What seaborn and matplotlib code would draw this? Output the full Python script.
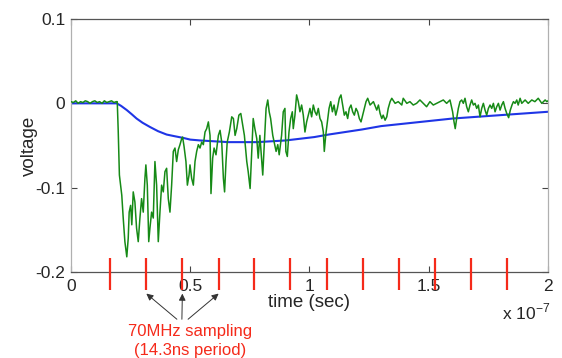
import numpy as np
import pandas as pd
import matplotlib
matplotlib.use("Agg")
import matplotlib.pyplot as plt
import seaborn as sns
from matplotlib.ticker import FuncFormatter

green_t_ns = [0, 1, 2, 3, 4, 5, 6, 7, 8, 9, 10, 11, 12, 13, 14, 15, 16, 17, 18, 19, 19.4, 19.8,
              20.3, 20.8, 21.3, 21.9, 22.6, 23.4, 24.0, 24.4, 25.0, 25.5, 26.1, 26.8, 27.5, 28.2,
              28.9, 29.6, 30.3, 31.0, 31.4, 32.0, 32.6, 33.1, 33.8, 34.5, 35.2, 35.9, 36.6, 37.3,
              38.0, 38.7, 39.4, 40.1, 40.8, 41.5, 42.2, 42.9, 43.6, 44.3, 45.0, 45.7, 46.4, 46.8,
              47.4, 48.2, 48.8, 49.5, 49.9, 50.6, 51.3, 52.0, 52.7, 53.4, 54.1, 54.8, 55.5, 56.2,
              56.9, 57.6, 58.3, 58.7, 59.4, 60.0, 60.8, 61.8, 62.5, 63.2, 63.9, 64.4, 65.0, 65.5,
              66.4, 67.4, 68.1, 68.8, 69.5, 70.4, 71.2, 72.0, 72.7, 73.7, 74.3, 75.1, 75.8, 76.4,
              77.1, 77.9, 78.5, 79.2, 80.4, 80.9, 81.8, 82.5, 83.1, 83.7, 84.6, 85.2, 86.0, 86.7,
              87.3, 88.3, 89.0, 89.7, 90.1, 90.7, 91.4, 92.1, 92.8, 93.2, 93.9, 94.6, 95.3, 96.0,
              96.7, 97.4, 98.1, 98.8, 99.5, 100.2, 100.9, 101.6, 102.3, 103.0, 103.7, 104.4, 105.1,
              105.8, 106.2, 106.8, 107.5, 108.2, 108.9, 109.6, 110.3, 111.0, 111.7, 112.5, 113.2,
              113.9, 114.6, 115.3, 116.0, 116.7, 117.4, 118.1, 118.8, 119.5, 120.2, 120.9, 121.6,
              122.3, 123.0, 123.7, 124.4, 125.4, 126.8, 128.2, 128.9, 129.6, 130.3, 130.9, 131.7,
              132.4, 133.0, 133.8, 134.5, 135.9, 137.2, 138.7, 139.3, 140.8, 142.1, 143.5, 144.9,
              146.3, 147.7, 149.1, 150.5, 151.9, 153.3, 154.7, 156.1, 157.5, 158.9, 160.0, 160.6,
              161.1, 161.7, 162.4, 163.1, 163.8, 164.5, 165.2, 165.9, 166.6, 167.3, 168.0, 168.7,
              169.4, 170.1, 170.8, 171.5, 172.2, 172.9, 173.6, 174.3, 175.0, 175.7, 176.4, 177.1,
              177.8, 178.5, 179.2, 179.9, 180.6, 181.3, 182.0, 182.7, 183.5, 184.2, 184.9, 185.5,
              186.2, 186.9, 187.5, 188.3, 189.0, 190.4, 191.7, 193.2, 194.5, 195.9, 197.4, 198.8,
              199.5, 200]
green_v = [0.002, 0.001, 0.003, 0.000, 0.002, 0.001, 0.003, 0.002, 0.000, 0.002, 0.003, 0.001,
           0.002, 0.000, 0.003, 0.001, 0.002, 0.003, 0.001, 0.002, 0.002, -0.032,
           -0.085, -0.097, -0.109, -0.136, -0.164, -0.182, -0.160, -0.129, -0.121, -0.144, -0.105,
           -0.117, -0.148, -0.164, -0.136, -0.113, -0.129, -0.089, -0.073, -0.097, -0.164, -0.148,
           -0.129, -0.136, -0.069, -0.097, -0.164, -0.129, -0.097, -0.105, -0.081, -0.077, -0.113,
           -0.129, -0.097, -0.057, -0.053, -0.069, -0.055, -0.049, -0.042, -0.040, -0.051, -0.069,
           -0.097, -0.085, -0.073, -0.089, -0.097, -0.069, -0.057, -0.049, -0.053, -0.046, -0.049,
           -0.034, -0.030, -0.022, -0.038, -0.107, -0.065, -0.053, -0.061, -0.038, -0.032, -0.046,
           -0.089, -0.105, -0.069, -0.046, -0.034, -0.016, -0.018, -0.038, -0.030, -0.014, -0.012,
           -0.026, -0.038, -0.069, -0.081, -0.101, -0.057, -0.018, -0.030, -0.042, -0.065, -0.038,
           -0.085, -0.057, -0.006, 0.004, -0.010, -0.018, -0.038, -0.046, -0.057, -0.049, -0.061,
           -0.038, -0.010, -0.006, -0.057, -0.063, -0.034, -0.018, -0.010, -0.030, -0.014, 0.010,
           0.002, -0.010, -0.002, -0.014, -0.034, -0.022, -0.014, -0.006, -0.016, -0.002, -0.010,
           -0.014, -0.006, -0.018, -0.022, -0.034, -0.057, -0.038, -0.022, -0.006, 0.002, -0.010,
           -0.002, -0.014, -0.006, 0.006, 0.010, -0.002, -0.014, -0.010, -0.018, -0.006, -0.002,
           -0.010, -0.014, -0.006, -0.010, -0.018, -0.022, -0.014, -0.006, 0.002, 0.006, -0.002,
           0.002, -0.008, -0.002, -0.012, -0.018, -0.014, -0.020, -0.016, -0.006, 0.002, 0.006,
           0.000, 0.002, -0.002, 0.006, 0.000, 0.002, -0.002, 0.000, 0.004, 0.000, -0.004, 0.002,
           -0.002, 0.000, 0.002, 0.004, 0.000, 0.004, -0.010, -0.022, -0.030, -0.018, -0.006,
           0.002, 0.004, 0.000, 0.006, -0.004, -0.010, -0.002, 0.004, -0.002, 0.000, -0.006,
           -0.002, -0.016, -0.006, 0.000, -0.008, -0.014, -0.006, -0.002, -0.006, 0.000, -0.010,
           -0.004, 0.000, -0.008, -0.002, 0.002, -0.006, -0.012, -0.017, -0.008, -0.002, 0.002,
           0.000, 0.004, -0.002, 0.006, 0.000, 0.004, 0.000, 0.004, 0.002, 0.006, 0.000, 0.004,
           0.002, 0.003]

# smooth (filtered) response
blue_t_ns = [0, 10, 19.2, 21, 23.4, 25.5, 27.5, 30, 33.1, 36.5, 40.1, 43.5, 47.1, 50, 54.1, 60,
             66, 72, 78, 84, 90, 96, 102, 108, 115, 122, 130, 140, 150, 160, 170, 180, 190, 200]
blue_v = [0, 0, 0, -0.003, -0.008, -0.013, -0.018, -0.023, -0.028, -0.033, -0.037, -0.039,
          -0.041, -0.043, -0.044, -0.045, -0.046, -0.046, -0.046, -0.045, -0.044, -0.042, -0.040,
          -0.037, -0.034, -0.031, -0.027, -0.024, -0.021, -0.018, -0.016, -0.014, -0.012, -0.010]

# 70 MHz sample instants (ns)
sample_t_ns = [16.4, 31.6, 46.7, 61.9, 76.9, 92.0, 107.2, 122.4, 137.5, 152.6, 167.8, 182.9]

x_ticks = [0, 0.5e-7, 1e-7, 1.5e-7, 2e-7]
y_ticks = [-0.2, -0.1, 0, 0.1]

sns.set_style("white")
plt.rcParams["font.family"] = ["Liberation Sans", "DejaVu Sans"]
plt.rcParams["mathtext.fontset"] = "custom"
plt.rcParams["mathtext.rm"] = "Liberation Sans"
plt.rcParams["axes.unicode_minus"] = False

green = pd.DataFrame({"t": np.array(green_t_ns) * 1e-9, "v": green_v})
blue = pd.DataFrame({"t": np.array(blue_t_ns) * 1e-9, "v": blue_v})

fig = plt.figure(figsize=(5.62, 3.58), dpi=100)
ax = fig.add_axes([0.1263, 0.2402, 0.8488, 0.7067])

sns.lineplot(data=blue, x="t", y="v", ax=ax, color="#1f35e6", linewidth=1.5,
             estimator=None, sort=False, zorder=2)
sns.lineplot(data=green, x="t", y="v", ax=ax, color="#168a16", linewidth=1.1,
             estimator=None, sort=False, zorder=3)

samples = np.array(sample_t_ns) * 1e-9
ax.vlines(samples, -0.2214, -0.1834, colors="#f52a1a", linewidth=1.6, clip_on=False, zorder=5)

ax.set_xlim(0, 2e-7)
ax.set_ylim(-0.2, 0.1)
ax.set_xticks(x_ticks)
ax.set_yticks(y_ticks)
ax.xaxis.set_major_formatter(FuncFormatter(lambda x, p: f"{round(x * 1e7, 3):g}"))
ax.yaxis.set_major_formatter(FuncFormatter(lambda y, p: f"{round(y, 3):g}"))
ax.tick_params(direction="in", length=4, width=0.8, color="#444444", labelsize=12.5,
               top=True, right=True, bottom=True, left=True)
ax.tick_params(axis="x", pad=5)
ax.tick_params(axis="y", pad=4)

for side in ["top", "bottom"]:
    ax.spines[side].set_color("#555555")
for side in ["left", "right"]:
    ax.spines[side].set_color("#b0b0b0")
for sp in ax.spines.values():
    sp.set_linewidth(0.9)

ax.set_xlabel("time (sec)", fontsize=13.5, labelpad=0)
ax.set_ylabel("voltage", fontsize=13.5, labelpad=-2)
fig.text(502 / 562, 1 - 312 / 358, "x 10$^{-7}$", fontsize=12.5, ha="left", va="center")

# sampling annotation
tails = [(44.4e-9, -0.256), (46.5e-9, -0.256), (49.1e-9, -0.256)]
tips = [(31.6e-9, -0.2256), (46.7e-9, -0.2256), (61.9e-9, -0.2256)]
for tail, tip in zip(tails, tips):
    ax.annotate("", xy=tip, xytext=tail, annotation_clip=False,
                arrowprops=dict(arrowstyle="-|>", color="#333333", lw=0.7,
                                mutation_scale=10, shrinkA=0, shrinkB=0))
ax.text(49.9e-9, -0.270, "70MHz sampling", color="#f52a1a", fontsize=12,
        ha="center", va="center", clip_on=False)
ax.text(49.9e-9, -0.293, "(14.3ns period)", color="#f52a1a", fontsize=12,
        ha="center", va="center", clip_on=False)

plt.savefig("out.png", dpi=100)
plt.close()
